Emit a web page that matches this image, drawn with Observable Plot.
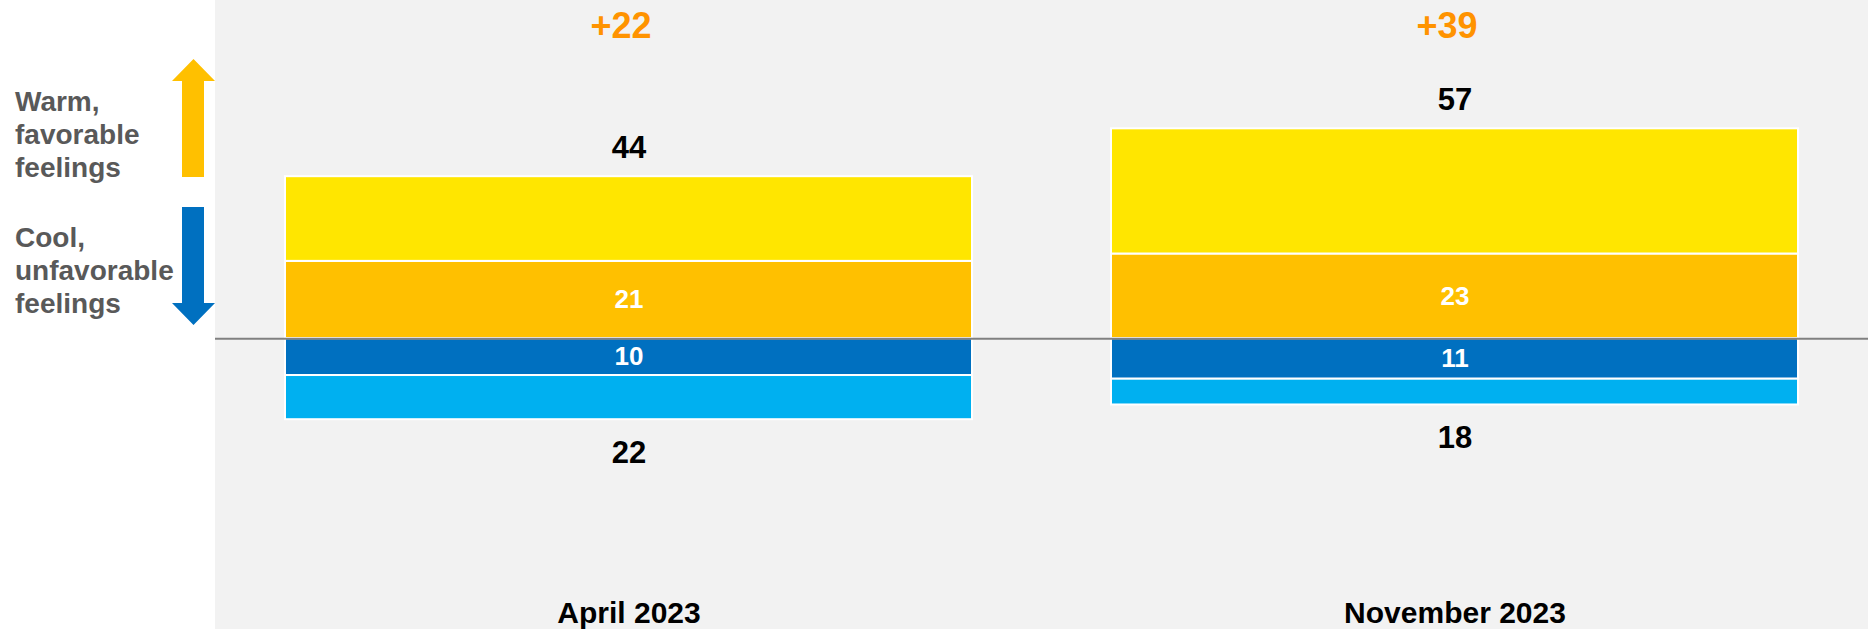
<!DOCTYPE html>
<html>
<head>
<meta charset="utf-8">
<script src="https://cdn.jsdelivr.net/npm/d3@7"></script>
<script src="https://cdn.jsdelivr.net/npm/@observablehq/plot@0.6"></script>
<style>
  html, body { margin: 0; padding: 0; background: #ffffff; }
  #wrap { display: flex; width: 1868px; height: 629px; font-family: "Liberation Sans", Arial, sans-serif; }
  #legend { position: relative; width: 215px; height: 629px; background: #ffffff; flex: none; }
  .lg { position: absolute; left: 15px; font-weight: bold; font-size: 28px; line-height: 33px; color: #595959; }
  #legend svg { position: absolute; left: 0; top: 0; }
  #chart { flex: none; }
</style>
</head>
<body>
<div id="wrap">
  <div id="legend">
    <svg width="215" height="629">
      <polygon points="182,177 182,81 172,81 193.5,59 215,81 204,81 204,177" fill="#FFC000"></polygon>
      <polygon points="182,207 204,207 204,303 215,303 193.5,325 172,303 182,303" fill="#0070C0"></polygon>
    </svg>
    <div class="lg" style="top:85px">Warm,<br>favorable<br>feelings</div>
    <div class="lg" style="top:221px">Cool,<br>unfavorable<br>feelings</div>
  </div>
  <div id="chart"></div>
</div>
<script>
// ---- data ----
const categories = ["April 2023", "November 2023"];
const segmentNames = ["Very warm", "Somewhat warm", "Somewhat cool", "Very cool"];
const segmentColors = ["#FFE600", "#FFC000", "#0070C0", "#00B0F0"];
const veryWarm = [23, 34];
const somewhatWarm = [21, 23];
const somewhatCool = [10, 11];
const veryCool = [12, 7];
const netLabels = ["+22", "+39"];

// ---- tables built from the arrays ----
const segments = [];
const inside = [];
const totals = [];
categories.forEach((c, i) => {
  const sw = somewhatWarm[i], vw = veryWarm[i], sc = somewhatCool[i], vc = veryCool[i];
  segments.push({period: c, segment: "Somewhat warm", y1: 0, y2: sw});
  segments.push({period: c, segment: "Very warm", y1: sw, y2: sw + vw});
  segments.push({period: c, segment: "Somewhat cool", y1: 0, y2: -sc});
  segments.push({period: c, segment: "Very cool", y1: -sc, y2: -(sc + vc)});
  inside.push({period: c, y: sw / 2, text: String(sw)});
  inside.push({period: c, y: -sc / 2, text: String(sc)});
  totals.push({period: c, warm: sw + vw, cool: sc + vc, net: netLabels[i]});
});

const chart = Plot.plot({
  width: 1653,
  height: 629,
  marginLeft: 0,
  marginRight: 0,
  marginTop: 0,
  marginBottom: 36,
  style: {background: "#F2F2F2", fontFamily: "Liberation Sans, Arial, sans-serif", overflow: "visible"},
  x: {domain: categories, paddingInner: 0.168, paddingOuter: 0.0834, axis: null},
  y: {domain: [-69.2, 91.85], axis: null},
  color: {domain: segmentNames, range: segmentColors},
  marks: [
    Plot.barY(segments, {x: "period", y1: "y1", y2: "y2", fill: "segment", stroke: "white", strokeWidth: 2}),
    Plot.ruleY([0], {stroke: "#808080", strokeWidth: 2}),
    Plot.text(inside, {x: "period", y: "y", text: "text", fill: "white", fontSize: 26, fontWeight: "bold", lineAnchor: "middle"}),
    Plot.text(totals, {x: "period", y: "warm", text: d => String(d.warm), fill: "black", fontSize: 31, fontWeight: "bold", lineAnchor: "bottom", dy: -19}),
    Plot.text(totals, {x: "period", y: d => -d.cool, text: d => String(d.cool), fill: "black", fontSize: 31, fontWeight: "bold", lineAnchor: "top", dy: 21}),
    Plot.text(totals, {x: "period", text: "net", frameAnchor: "top", lineAnchor: "bottom", dy: 37, dx: -8, fill: "#FF9300", fontSize: 36, fontWeight: "bold"}),
    Plot.axisX({tickSize: 0, tickPadding: 8, fontSize: 30, fontWeight: "bold", color: "black", label: null})
  ]
});
document.getElementById("chart").appendChild(chart);
</script>
</body>
</html>
